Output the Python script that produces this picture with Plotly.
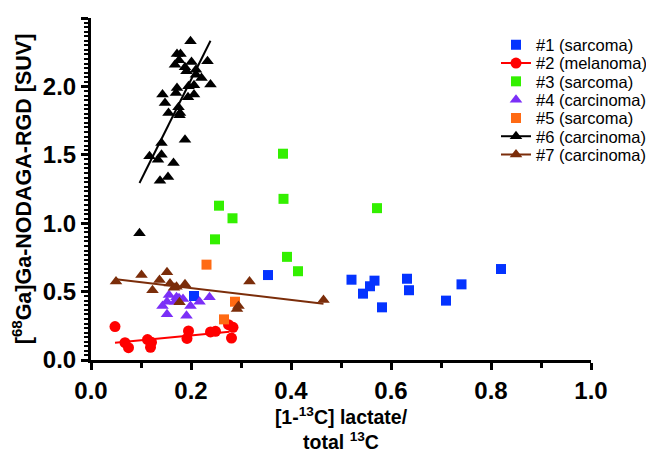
import plotly.graph_objects as go

# ---- data ----
s1_x = [0.206, 0.354, 0.521, 0.544, 0.558, 0.567, 0.582, 0.632, 0.636, 0.710, 0.741, 0.820]
s1_y = [0.468, 0.621, 0.587, 0.485, 0.539, 0.580, 0.385, 0.594, 0.510, 0.434, 0.553, 0.665]

s2_x = [0.048, 0.068, 0.075, 0.113, 0.121, 0.119, 0.195, 0.192, 0.239, 0.249, 0.275, 0.284, 0.281]
s2_y = [0.244, 0.127, 0.090, 0.149, 0.129, 0.093, 0.212, 0.158, 0.205, 0.210, 0.258, 0.239, 0.160]
s2_fit_x = [0.048, 0.277]
s2_fit_y = [0.127, 0.207]

s3_x = [0.256, 0.283, 0.248, 0.384, 0.385, 0.392, 0.414, 0.572]
s3_y = [1.128, 1.036, 0.882, 1.508, 1.178, 0.754, 0.649, 1.110]

s4_x = [0.156, 0.171, 0.184, 0.152, 0.143, 0.168, 0.199, 0.217, 0.237, 0.152, 0.191, 0.176]
s4_y = [0.475, 0.458, 0.446, 0.426, 0.395, 0.426, 0.395, 0.426, 0.458, 0.334, 0.324, 0.451]

s5_x = [0.231, 0.288, 0.266]
s5_y = [0.697, 0.426, 0.297]

s6_x = [0.199, 0.172, 0.179, 0.168, 0.176, 0.201, 0.233, 0.188, 0.191, 0.210, 0.210, 0.221,
        0.239, 0.195, 0.206, 0.172, 0.170, 0.143, 0.194, 0.206, 0.148, 0.175, 0.178, 0.155,
        0.177, 0.188, 0.141, 0.141, 0.117, 0.134, 0.165, 0.154, 0.138, 0.097]
s6_y = [2.330, 2.237, 2.237, 2.159, 2.191, 2.178, 2.183, 2.140, 2.110, 2.122, 2.086, 2.061,
        2.013, 2.001, 2.008, 1.988, 1.952, 1.940, 1.920, 1.940, 1.879, 1.847, 1.806, 1.806,
        1.789, 1.610, 1.586, 1.501, 1.489, 1.464, 1.440, 1.338, 1.311, 0.926]
s6_fit_x = [0.097, 0.239]
s6_fit_y = [1.294, 2.334]

s7_x = [0.050, 0.101, 0.152, 0.137, 0.123, 0.158, 0.166, 0.171, 0.188, 0.177, 0.292, 0.295, 0.317, 0.465]
s7_y = [0.573, 0.621, 0.641, 0.585, 0.509, 0.560, 0.529, 0.536, 0.553, 0.422, 0.373, 0.395, 0.573, 0.439]
s7_fit_x = [0.050, 0.465]
s7_fit_y = [0.590, 0.412]

names = ["#1 (sarcoma)", "#2 (melanoma)", "#3 (sarcoma)", "#4 (carcinoma)",
         "#5 (sarcoma)", "#6 (carcinoma)", "#7 (carcinoma)"]
colors = ["#0433FF", "#FF0000", "#33F000", "#7B2FF7", "#FF6A13", "#000000", "#7B2D0A"]
symbols = ["square", "circle", "square", "triangle-up", "square", "triangle-up", "triangle-up"]
sizes = [10, 11, 10, 11, 10, 11, 11]
xs = [s1_x, s2_x, s3_x, s4_x, s5_x, s6_x, s7_x]
ys = [s1_y, s2_y, s3_y, s4_y, s5_y, s6_y, s7_y]
has_fit = [False, True, False, False, False, True, True]
fits = {1: (s2_fit_x, s2_fit_y), 5: (s6_fit_x, s6_fit_y), 6: (s7_fit_x, s7_fit_y)}

FONT = "Liberation Sans, Arial, sans-serif"
W, H = 654, 452
ML, MR, MT, MB = 83, 54, 10, 100
PH = H - MT - MB

fig = go.Figure()

# regression lines (behind markers)
for i, (fx, fy) in fits.items():
    fig.add_trace(go.Scatter(x=fx, y=fy, mode="lines", line=dict(color=colors[i], width=2),
                             showlegend=False, hoverinfo="skip"))

# data points
for i in range(7):
    fig.add_trace(go.Scatter(x=xs[i], y=ys[i], mode="markers",
                             marker=dict(symbol=symbols[i], size=sizes[i], color=colors[i],
                                         line=dict(width=0)),
                             showlegend=False, name=names[i]))

# legend entries, one legend box per row for tight row spacing
legend_layouts = {}
for i in range(7):
    key = "legend" if i == 0 else f"legend{i + 1}"
    fig.add_trace(go.Scatter(x=[None], y=[None],
                             mode="lines+markers" if has_fit[i] else "markers",
                             line=dict(color=colors[i], width=2),
                             marker=dict(symbol=symbols[i], size=sizes[i], color=colors[i]),
                             name=names[i], showlegend=True, legend=key))
    row_px = 37 + 18.3 * i
    legend_layouts[key] = dict(x=0.81, y=(H - MB - row_px) / PH, xanchor="left", yanchor="middle",
                               font=dict(family=FONT, size=16.5, color="black"),
                               bgcolor="rgba(0,0,0,0)", itemwidth=30)

fig.update_layout(
    width=W, height=H,
    margin=dict(l=ML, r=MR, t=MT, b=MB),
    paper_bgcolor="white", plot_bgcolor="white",
    font=dict(family=FONT, color="black"),
    showlegend=True,
    xaxis=dict(range=[0, 1], tickvals=[0, 0.2, 0.4, 0.6, 0.8, 1.0],
               ticktext=["0.0", "0.2", "0.4", "0.6", "0.8", "1.0"], automargin=False,
               showgrid=False, zeroline=False, showline=True, linecolor="black", linewidth=3,
               ticks="outside", ticklen=7, tickwidth=3, tickcolor="black",
               tickfont=dict(family=FONT, size=24, weight="bold", color="black"),
               minor=dict(tickvals=[0.1, 0.3, 0.5, 0.7, 0.9], ticks="outside", ticklen=5,
                          tickwidth=3, tickcolor="black"),
               title=dict(text="[1-<sup>13</sup>C] lactate/<br>total <sup>13</sup>C",
                          font=dict(family=FONT, size=19.5, weight="bold", color="black"),
                          standoff=8)),
    yaxis=dict(range=[0, 2.5], tickvals=[0, 0.5, 1.0, 1.5, 2.0, 2.5],
               ticktext=["0.0", "0.5", "1.0", "1.5", "2.0", "2.5"], automargin=False,
               showgrid=False, zeroline=False, showline=True, linecolor="black", linewidth=3,
               ticks="outside", ticklen=7, tickwidth=3, tickcolor="black",
               tickfont=dict(family=FONT, size=24, weight="bold", color="black"),
               minor=dict(dtick=0.5 / 15, tick0=0, ticks="outside", ticklen=4,
                          tickwidth=2, tickcolor="black"),
               title=dict(text="[<sup>68</sup>Ga]Ga-NODAGA-RGD [SUV]",
                          font=dict(family=FONT, size=21.5, weight="bold", color="black"),
                          standoff=9)),
    **legend_layouts,
)

fig.write_html("out.html")
